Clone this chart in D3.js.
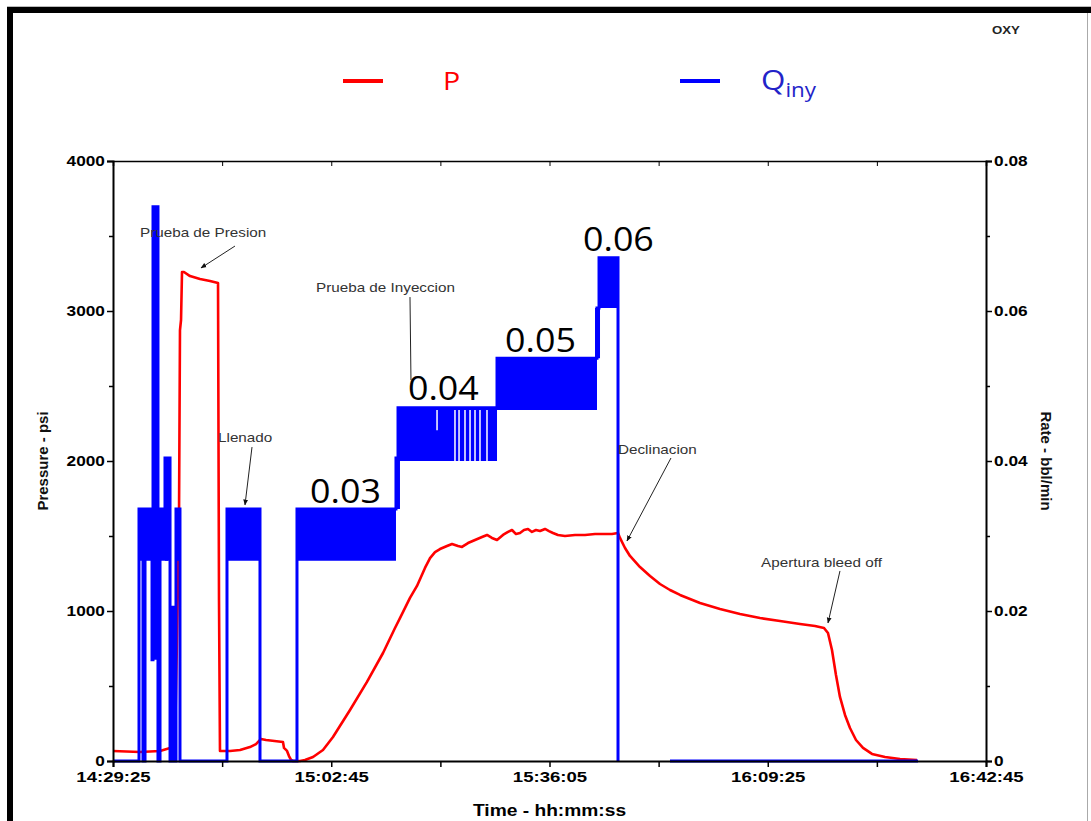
<!DOCTYPE html>
<html>
<head>
<meta charset="utf-8">
<script src="https://cdn.jsdelivr.net/npm/d3@7"></script>
<style>
  body { margin: 0; background: #fff; }
  svg { display: block; font-family: "Liberation Sans", Arial, sans-serif; }
</style>
</head>
<body>
<div></div>
<script>
// minutes since 14:29:25 and pressure (psi)
var pTime = [0, 4.12, 7.18, 8.71, 9.47, 9.77, 10.08, 10.23, 10.39, 10.54, 10.84, 11.76, 13.29, 14.81, 16.04,
    16.19, 16.34, 17.87, 19.40, 20.92, 21.84, 22.60, 23.37, 25.96, 26.12, 26.58, 26.88, 27.19, 27.49, 28.56,
    29.32, 30.55, 32.07, 33.60, 36.20, 38.79, 41.24, 43.07, 43.83, 45.36, 46.43, 47.65, 48.42, 49.18, 49.94,
    51.01, 51.78, 52.69, 53.30, 54.22, 55.29, 56.36, 57.12, 57.88, 58.65, 59.56, 60.33, 60.94, 61.55, 62.16,
    62.77, 63.38, 63.99, 64.60, 65.22, 65.98, 66.59, 67.20, 67.96, 69.03, 70.56, 72.09, 73.62, 75.14, 76.21,
    77.13, 77.43, 78.20, 78.96, 80.49, 82.02, 83.54, 85.07, 86.60, 89.65, 92.71, 95.76, 98.82, 101.87, 104.93,
    107.22, 108.59, 109.20, 109.81, 110.42, 111.03, 111.80, 112.56, 113.48, 114.55, 115.92, 117.91, 120.20, 122.79];
var pValue = [67, 60, 67, 87, 107, 807, 1607, 2873, 2940, 3260, 3260, 3233, 3213, 3200, 3187,
    1073, 67, 67, 73, 93, 113, 147, 140, 127, 87, 67, 33, 7, 0, 0,
    7, 27, 73, 160, 340, 527, 720, 887, 953, 1087, 1167, 1287, 1353, 1393, 1413,
    1433, 1447, 1433, 1427, 1453, 1473, 1493, 1507, 1487, 1473, 1507, 1527, 1540, 1513, 1520,
    1540, 1547, 1527, 1540, 1533, 1547, 1533, 1520, 1507, 1500, 1507, 1507, 1513, 1513, 1513,
    1520, 1487, 1420, 1367, 1293, 1233, 1180, 1140, 1107, 1053, 1013, 980, 953, 933, 913,
    900, 887, 853, 740, 573, 427, 307, 220, 140, 87, 47, 27, 13, 7];

// injection rate (bbl/min) outline, null = no record
var qTime = [0, 3.97, 3.97, 4.58, 4.58, 4.89, 4.89, 5.96, 5.96, 6.11, 6.11, 6.87, 6.87, 7.18, 7.18, 7.94, 7.94,
    8.71, 8.71, 9.01, 9.01, 9.32, 9.32, 9.62, 9.62, 10.23, 10.23, 17.41, 17.41, 22.45, 22.45, 28.10, 28.10,
    43.22, 43.22, 43.53, 43.53, 58.65, 58.65, 73.92, 73.92, 74.23, 74.23, 77.13, 77.13, 80, 85.07, 122.95];
var qValue = [0, 0, 0.0336, 0.0336, 0, 0, 0.0336, 0.0336, 0.0135, 0.0135, 0.0739, 0.0739, 0, 0, 0.0336, 0.0336, 0.0404,
    0.0404, 0, 0, 0.0205, 0.0205, 0, 0, 0.0336, 0.0336, 0, 0, 0.0336, 0.0336, 0, 0, 0.0336,
    0.0336, 0.0404, 0.0404, 0.0471, 0.0471, 0.0537, 0.0537, 0.0604, 0.0604, 0.0671, 0.0671, 0, null, 0, 0];

// oscillation bands of the rate signal
var bandStart = [3.97, 6.11, 7.94, 9.62, 17.41, 28.10, 43.07, 43.53, 58.65, 73.62, 74.23];
var bandEnd = [8.40, 6.87, 8.71, 10.23, 22.45, 43.22, 43.83, 58.65, 73.92, 74.38, 77.13];
var bandLow = [0.0267, 0.0135, 0.0267, 0.0267, 0.0267, 0.0267, 0.0336, 0.0400, 0.0468, 0.0537, 0.0604];
var bandHigh = [0.0336, 0.0739, 0.0404, 0.0336, 0.0336, 0.0336, 0.0404, 0.0471, 0.0537, 0.0604, 0.0671];

// short dropouts inside the 0.04 band
var gapTime = [49.49, 52.23, 52.85, 53.76, 54.53, 55.29, 56.05, 57.12];
var gapLow = [0.0441, 0.0400, 0.0400, 0.0400, 0.0400, 0.0400, 0.0400, 0.0400];

var stepLabels = ["0.03", "0.04", "0.05", "0.06"];
var stepLabelTime = [30.09, 45.05, 59.87, 71.78];
var stepLabelP = [1720, 2407, 2727, 3400];

var notes = [
    { text: "Prueba de Presion", t: 4.12, p: 3493, from: [18.63, 3433], to: [13.44, 3287], head: true },
    { text: "Prueba de Inyeccion", t: 31.0, p: 3127, from: [45.36, 3093], to: [45.51, 2540], head: false },
    { text: "Llenado", t: 16.04, p: 2127, from: [21.23, 2093], to: [20.16, 1707], head: true },
    { text: "Declinacion", t: 77.13, p: 2047, from: [85.22, 2020], to: [78.5, 1467], head: true },
    { text: "Apertura bleed off", t: 98.97, p: 1293, from: [111.03, 1267], to: [109.2, 920], head: true }
];

var width = 1091;
var height = 821;
var plotLeft = 113, plotRight = 986, plotTop = 161, plotBottom = 761;

var start = new Date(2000, 0, 1, 14, 29, 25);
function toDate(m) { return new Date(start.getTime() + m * 60000); }

var svg = d3.select('div')
    .append('svg')
    .attr('width', width)
    .attr('height', height);

svg.append("rect").attr("width", width).attr("height", height).attr("fill", "#fff");

// page frame
svg.append("line").attr("x1", 7).attr("x2", width).attr("y1", 6.5).attr("y2", 6.5).attr("stroke", "#bbb");
svg.append("rect").attr("x", 7).attr("y", 7).attr("width", width - 7).attr("height", 6).attr("fill", "#000");
svg.append("rect").attr("x", 7).attr("y", 7).attr("width", 6).attr("height", height - 7).attr("fill", "#000");
svg.append("line").attr("x1", 1087.5).attr("x2", 1087.5).attr("y1", 13).attr("y2", height).attr("stroke", "#aaa");

var xscale = d3.scaleTime()
    .domain([start, new Date(start.getTime() + 8000 * 1000)])
    .range([plotLeft, plotRight]);
var yscale = d3.scaleLinear().domain([0, 4000]).range([plotBottom, plotTop]);
var qscale = d3.scaleLinear().domain([0, 0.08]).range([plotBottom, plotTop]);

// legend
svg.append("line").attr("x1", 343).attr("x2", 383).attr("y1", 81).attr("y2", 81)
    .attr("stroke", "#ff0000").attr("stroke-width", 4);
svg.append("text").attr("transform", "translate(443,90) scale(1.1,1)").attr("fill", "#ff0000")
    .style("font-family", "'Open Sans', sans-serif").style("font-size", "26px").text("P");
svg.append("line").attr("x1", 680).attr("x2", 720).attr("y1", 81).attr("y2", 81)
    .attr("stroke", "#0000ff").attr("stroke-width", 4);
var qt = svg.append("text").attr("transform", "translate(761,90) scale(1.12,1)").attr("fill", "#2323c8")
    .style("font-family", "'Open Sans', sans-serif").style("font-size", "28px");
qt.append("tspan").text("Q");
qt.append("tspan").attr("dy", 7).style("font-size", "20px").text("iny");

svg.append("text").attr("transform", "translate(992,34) scale(1.2,1)")
    .style("font-size", "11px").style("font-weight", "bold")
    .attr("fill", "#222").text("OXY");

// pressure line (drawn first, rate on top)
var pLine = d3.line()
    .x(function (d, i) { return xscale(toDate(pTime[i])); })
    .y(function (d) { return yscale(d); });
svg.append("path")
    .attr("d", pLine(pValue))
    .attr("fill", "none")
    .attr("stroke", "#ff0000")
    .attr("stroke-width", 2.6)
    .attr("stroke-linejoin", "round");

// rate bands
svg.selectAll("rect.band")
    .data(bandStart)
    .enter()
    .append("rect")
    .attr("class", "band")
    .attr("x", function (d) { return xscale(toDate(d)); })
    .attr("width", function (d, i) { return xscale(toDate(bandEnd[i])) - xscale(toDate(d)); })
    .attr("y", function (d, i) { return qscale(bandHigh[i]); })
    .attr("height", function (d, i) { return qscale(bandLow[i]) - qscale(bandHigh[i]); })
    .attr("fill", "#0000ff");

svg.selectAll("line.gap")
    .data(gapTime)
    .enter()
    .append("line")
    .attr("class", "gap")
    .attr("x1", function (d) { return xscale(toDate(d)); })
    .attr("x2", function (d) { return xscale(toDate(d)); })
    .attr("y1", qscale(0.0468))
    .attr("y2", function (d, i) { return qscale(gapLow[i]); })
    .attr("stroke", "#fff")
    .attr("stroke-width", 1.5);

var qLine = d3.line()
    .defined(function (d) { return d !== null; })
    .x(function (d, i) { return xscale(toDate(qTime[i])); })
    .y(function (d) { return qscale(d); });
svg.append("path")
    .attr("d", qLine(qValue))
    .attr("fill", "none")
    .attr("stroke", "#0000ff")
    .attr("stroke-width", 3);

// axes
var tickDates = d3.range(0, 8001, 1000).map(function (s) { return new Date(start.getTime() + s * 1000); });
var fmt = d3.timeFormat("%H:%M:%S");
var xaxis = d3.axisBottom(xscale)
    .tickValues(tickDates)
    .tickSize(6)
    .tickFormat(function (d, i) { return i % 2 === 0 ? fmt(d) : ""; });
var yaxis = d3.axisLeft(yscale).tickValues(d3.range(0, 4001, 500)).tickSize(6)
    .tickFormat(function (d) { return d % 1000 === 0 ? d : ""; });
var qaxis = d3.axisRight(qscale).tickValues(d3.range(0, 0.0801, 0.01)).tickSize(6)
    .tickFormat(function (d, i) { return i % 2 === 0 ? (i === 0 ? "0" : d3.format(".2f")(d)) : ""; });

function styleAxis(g) {
    g.select(".domain").attr("stroke", "#000").attr("stroke-width", 2);
    g.selectAll(".tick line").attr("stroke", "#000").attr("stroke-width", 1.5);
    g.selectAll(".tick text").attr("fill", "#000")
        .style("font-size", "15px").style("font-weight", "bold")
        .style("font-family", "'Liberation Sans', Arial, sans-serif");
}

var gx = svg.append("g").attr("transform", "translate(0," + plotBottom + ")").call(xaxis).call(styleAxis);
gx.selectAll(".tick text").attr("transform", "scale(1.24,1)").attr("y", 10);
var gy = svg.append("g").attr("transform", "translate(" + plotLeft + ",0)").call(yaxis).call(styleAxis);
gy.selectAll(".tick text").attr("transform", "scale(1.15,1)").attr("x", -7);
gy.selectAll(".tick line").attr("x2", function (d) { return d % 1000 === 0 ? -6 : -4; });
var gq = svg.append("g").attr("transform", "translate(" + plotRight + ",0)").call(qaxis).call(styleAxis);
gq.selectAll(".tick text").attr("transform", "scale(1.15,1)").attr("x", 7);
gq.selectAll(".tick line").attr("x2", function (d, i) { return i % 2 === 0 ? 6 : 4; });
var gt = svg.append("g").attr("transform", "translate(0," + plotTop + ")")
    .call(d3.axisBottom(xscale).tickValues(tickDates).tickSize(5).tickFormat(""));
gt.select(".domain").attr("stroke", "#000").attr("stroke-width", 1.5);
gt.selectAll(".tick line").attr("stroke", "#000");

// axis titles
svg.append("text")
    .attr("transform", "translate(48," + ((plotTop + plotBottom) / 2) + ") rotate(-90)")
    .style("text-anchor", "middle").style("font-size", "15px").style("font-weight", "bold").attr("fill", "#111")
    .text("Pressure - psi");
svg.append("text")
    .attr("transform", "translate(1041," + ((plotTop + plotBottom) / 2) + ") rotate(90)")
    .style("text-anchor", "middle").style("font-size", "15px").style("font-weight", "bold").attr("fill", "#111")
    .text("Rate - bbl/min");
svg.append("text")
    .attr("transform", "translate(" + ((plotLeft + plotRight) / 2) + ",816) scale(1.2,1)")
    .style("text-anchor", "middle").style("font-size", "16px").style("font-weight", "bold")
    .text("Time - hh:mm:ss");

// annotations
svg.append("defs").append("marker")
    .attr("id", "arrow").attr("viewBox", "0 0 10 10").attr("refX", 9).attr("refY", 5)
    .attr("markerWidth", 6).attr("markerHeight", 6).attr("orient", "auto")
    .append("path").attr("d", "M0,1 L10,5 L0,9 Z").attr("fill", "#111");

notes.forEach(function (n) {
    svg.append("text")
        .attr("transform", "translate(" + xscale(toDate(n.t)) + "," + yscale(n.p) + ") scale(1.22,1)")
        .style("font-size", "12.5px")
        .attr("fill", "#333")
        .text(n.text);
    svg.append("line")
        .attr("x1", xscale(toDate(n.from[0]))).attr("y1", yscale(n.from[1]))
        .attr("x2", xscale(toDate(n.to[0]))).attr("y2", yscale(n.to[1]))
        .attr("stroke", "#222").attr("stroke-width", 1)
        .attr("marker-end", n.head ? "url(#arrow)" : null);
});

// rate step labels
svg.selectAll("text.step")
    .data(stepLabels)
    .enter()
    .append("text")
    .attr("class", "step")
    .attr("transform", function (d, i) {
        return "translate(" + xscale(toDate(stepLabelTime[i])) + "," + yscale(stepLabelP[i]) + ") scale(1.12,1)";
    })
    .style("font-family", "'Open Sans', sans-serif")
    .style("font-size", "32px")
    .attr("fill", "#000")
    .text(function (d) { return d; });
</script>
</body>
</html>
